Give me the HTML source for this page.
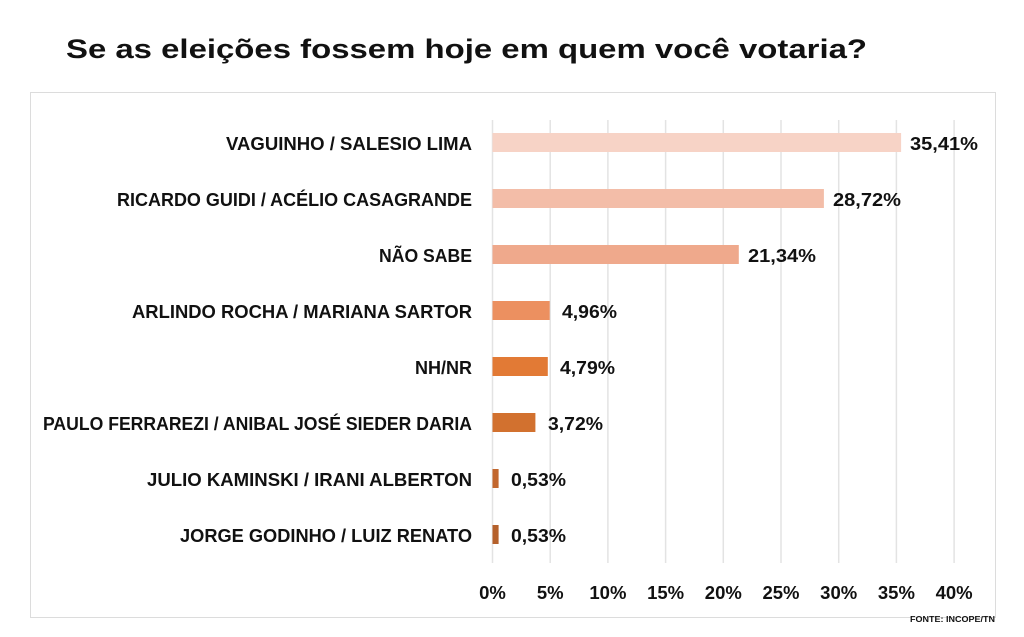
<!DOCTYPE html>
<html><head><meta charset="utf-8"><style>
body{margin:0;background:#fff}
svg{display:block}
text{font-family:"Liberation Sans",sans-serif;font-weight:bold;fill:#111}
</style></head><body>
<svg width="1024" height="637" viewBox="0 0 1024 637">
<rect width="1024" height="637" fill="#fff"/>
<text x="66" y="58" font-size="27" textLength="801" lengthAdjust="spacingAndGlyphs">Se as eleições fossem hoje em quem você votaria?</text>
<rect x="30.5" y="92.5" width="965" height="525" fill="none" stroke="#dcdcdc"/>
<g stroke="#e3e3e3" stroke-width="1.5">
<line x1="492.5" y1="120" x2="492.5" y2="563"/>
<line x1="550.2" y1="120" x2="550.2" y2="563"/>
<line x1="607.9" y1="120" x2="607.9" y2="563"/>
<line x1="665.6" y1="120" x2="665.6" y2="563"/>
<line x1="723.3" y1="120" x2="723.3" y2="563"/>
<line x1="781" y1="120" x2="781" y2="563"/>
<line x1="838.7" y1="120" x2="838.7" y2="563"/>
<line x1="896.4" y1="120" x2="896.4" y2="563"/>
<line x1="954.1" y1="120" x2="954.1" y2="563"/>
</g>
<g>
<rect x="492.5" y="133" width="408.6" height="19" fill="#f7d3c6"/>
<rect x="492.5" y="189" width="331.4" height="19" fill="#f3bda8"/>
<rect x="492.5" y="245" width="246.3" height="19" fill="#efa98c"/>
<rect x="492.5" y="301" width="57.2" height="19" fill="#ec9060"/>
<rect x="492.5" y="357" width="55.3" height="19" fill="#e27a35"/>
<rect x="492.5" y="413" width="42.9" height="19" fill="#d2712f"/>
<rect x="492.5" y="469" width="6.1" height="19" fill="#c2672e"/>
<rect x="492.5" y="525" width="6.1" height="19" fill="#b5612c"/>
</g>
<g font-size="18.5">
<text x="910" y="150" textLength="68" lengthAdjust="spacingAndGlyphs">35,41%</text>
<text x="833" y="206" textLength="68" lengthAdjust="spacingAndGlyphs">28,72%</text>
<text x="748" y="262" textLength="68" lengthAdjust="spacingAndGlyphs">21,34%</text>
<text x="562" y="318" textLength="55" lengthAdjust="spacingAndGlyphs">4,96%</text>
<text x="560" y="374" textLength="55" lengthAdjust="spacingAndGlyphs">4,79%</text>
<text x="548" y="430" textLength="55" lengthAdjust="spacingAndGlyphs">3,72%</text>
<text x="511" y="486" textLength="55" lengthAdjust="spacingAndGlyphs">0,53%</text>
<text x="511" y="542" textLength="55" lengthAdjust="spacingAndGlyphs">0,53%</text>
</g>
<g font-size="18" text-anchor="end">
<text x="472" y="150" textLength="246" lengthAdjust="spacingAndGlyphs">VAGUINHO / SALESIO LIMA</text>
<text x="472" y="206" textLength="355" lengthAdjust="spacingAndGlyphs">RICARDO GUIDI / ACÉLIO CASAGRANDE</text>
<text x="472" y="262" textLength="93" lengthAdjust="spacingAndGlyphs">NÃO SABE</text>
<text x="472" y="318" textLength="340" lengthAdjust="spacingAndGlyphs">ARLINDO ROCHA / MARIANA SARTOR</text>
<text x="472" y="374">NH/NR</text>
<text x="472" y="430" textLength="429" lengthAdjust="spacingAndGlyphs">PAULO FERRAREZI / ANIBAL JOSÉ SIEDER DARIA</text>
<text x="472" y="486" textLength="325" lengthAdjust="spacingAndGlyphs">JULIO KAMINSKI / IRANI ALBERTON</text>
<text x="472" y="542" textLength="292" lengthAdjust="spacingAndGlyphs">JORGE GODINHO / LUIZ RENATO</text>
</g>
<g font-size="18.5" text-anchor="middle">
<text x="492.5" y="599">0%</text>
<text x="550.2" y="599">5%</text>
<text x="607.9" y="599">10%</text>
<text x="665.6" y="599">15%</text>
<text x="723.3" y="599">20%</text>
<text x="781" y="599">25%</text>
<text x="838.7" y="599">30%</text>
<text x="896.4" y="599">35%</text>
<text x="954.1" y="599">40%</text>
</g>
<text x="910" y="622" font-size="8" textLength="85" lengthAdjust="spacingAndGlyphs" fill="#333">FONTE: INCOPE/TN</text>
</svg>
</body></html>
